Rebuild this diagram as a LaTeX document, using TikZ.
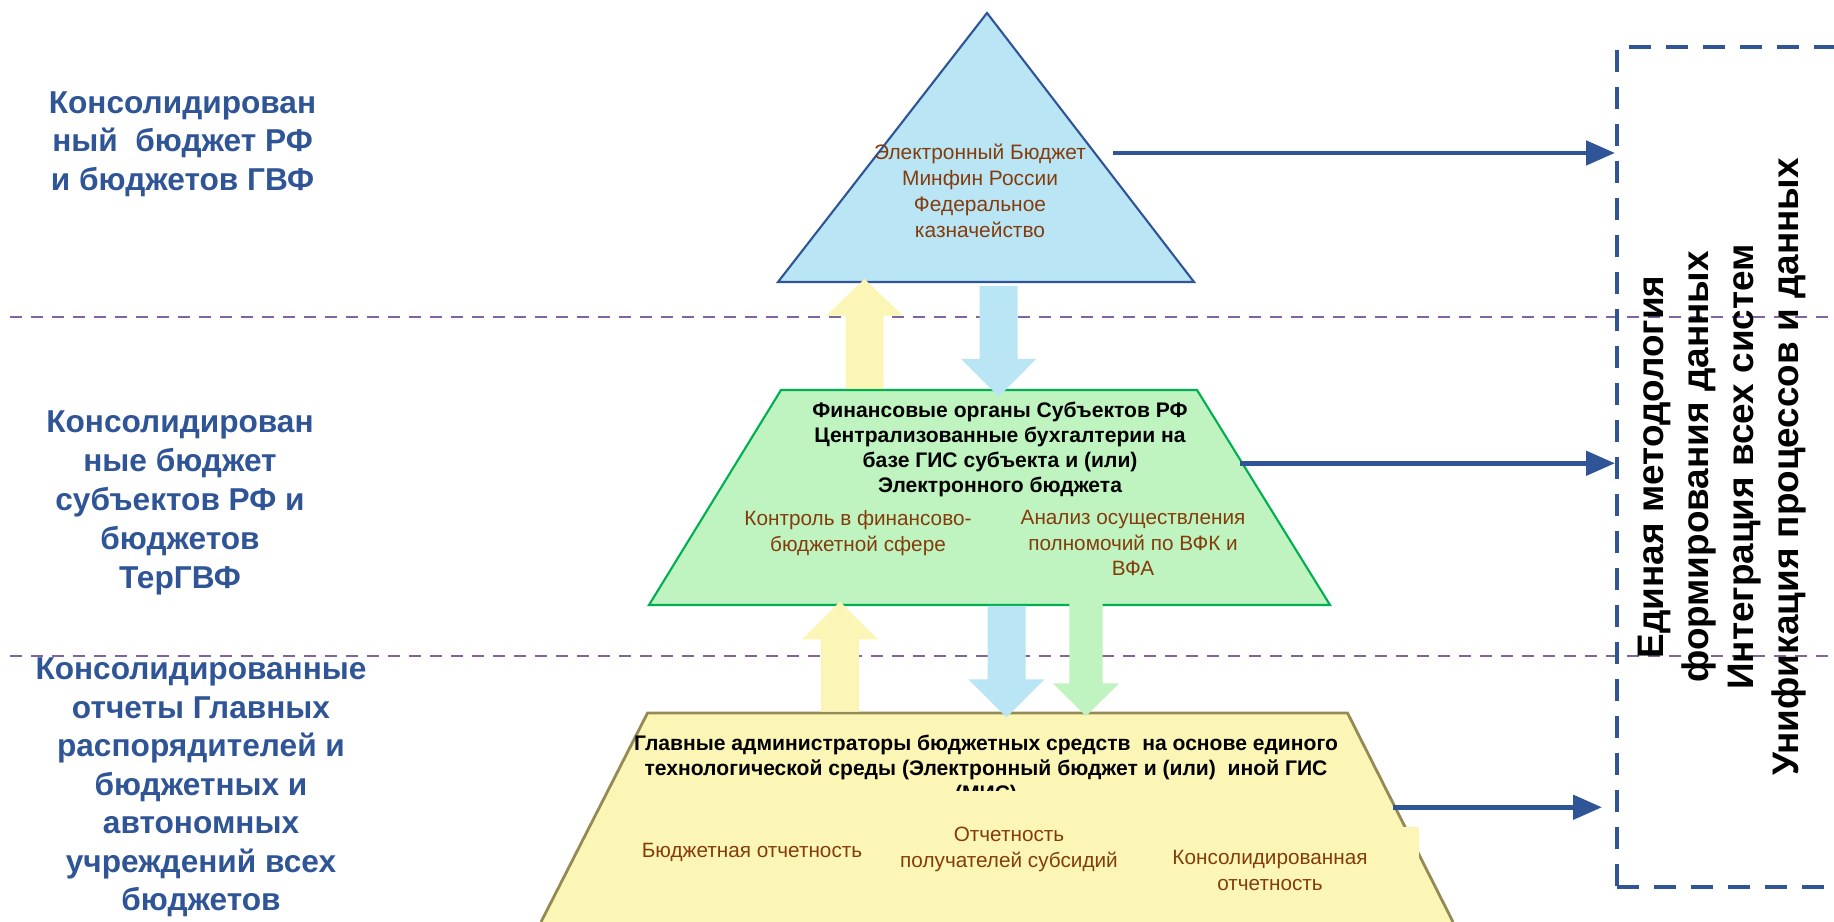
\documentclass[tikz,border=0pt]{standalone}
\usepackage{fontspec}
\setmainfont{Liberation Sans}
\usetikzlibrary{arrows.meta}
\definecolor{tierblue}{RGB}{185,229,245}
\definecolor{tiergreen}{RGB}{191,243,191}
\definecolor{tieryellow}{RGB}{252,246,182}
\definecolor{edgegreen}{RGB}{0,176,80}
\definecolor{edgeolive}{RGB}{148,138,84}
\definecolor{deepblue}{RGB}{47,85,151}
\definecolor{rust}{RGB}{132,60,12}
\definecolor{lilac}{RGB}{128,100,162}
\tikzset{
  top_tier/.style = { fill=tierblue, draw=deepblue, line width=0.6pt },
  mid_tier/.style = { fill=tiergreen, draw=edgegreen, line width=0.6pt },
  low_fill/.style = { fill=tieryellow },
  low_edge/.style = { draw=edgeolive, line width=0.8pt },
  divider/.style  = { lilac, line width=0.5pt, dash pattern=on 0.12cm off 0.09cm },
  boxline/.style  = { draw=deepblue, line width=1.15pt, dash pattern=on 0.22cm off 0.15cm },
  feed/.style     = { deepblue, line width=1.4pt, -{Triangle[length=0.29cm,width=0.24cm]} },
  heading/.style  = { deepblue, font=\bfseries\fontsize{9}{10.95}\selectfont, align=center },
  orgs/.style     = { font=\bfseries\fontsize{6}{7.1}\selectfont, align=center },
  note/.style     = { rust, font=\fontsize{5.9}{7.3}\selectfont, align=center }
}

\begin{document}
\begin{tikzpicture}
  \useasboundingbox (0,0) rectangle (18.34,9.22);

  % Draw level borders
  \draw[divider] (0.1,6.05) -- (18.34,6.05);
  \draw[divider] (0.1,2.66) -- (18.34,2.66);

  % Draw all levels
  \filldraw[top_tier] (7.78,6.40) -- (9.87,9.09) -- (11.94,6.40) -- cycle;
  \filldraw[mid_tier] (6.49,3.17) -- (7.81,5.32) -- (11.97,5.32) -- (13.30,3.17) -- cycle;
  \fill[low_fill] (5.41,0) -- (6.475,2.09) -- (13.475,2.09) -- (14.53,0) -- cycle;
  \draw[low_edge] (5.41,0) -- (6.475,2.09) -- (13.475,2.09) -- (14.53,0);

  \node[note, font=\fontsize{5.95}{7.4}\selectfont] (ebud) at (9.80,7.315)
    {Электронный Бюджет\\Минфин России\\Федеральное\\казначейство};

  \node[orgs] (fin) at (10.00,4.725)
    {Финансовые органы Субъектов РФ\\Централизованные бухгалтерии на\\базе ГИС субъекта и (или)\\Электронного бюджета};
  \node[note] (ctrl) at (8.58,3.89) {Контроль в финансово-\\бюджетной сфере};
  \node[note] (vfk) at (11.33,3.79) {Анализ осуществления\\полномочий по ВФК и\\ВФА};

  \node[orgs, font=\bfseries\fontsize{6}{7.1}\selectfont] (gabs) at (9.86,1.52)
    {Главные администраторы бюджетных средств~ на основе единого\\технологической среды (Электронный бюджет и (или)~ иной ГИС\\(МИС)};
  \fill[low_fill] (6.70,0) rectangle (13.30,1.31);
  \fill[low_fill] (11.60,0) rectangle (14.19,0.95);
  \node[note] (bo) at (7.52,0.70) {Бюджетная отчетность};
  \node[note] (po) at (10.09,0.725) {Отчетность\\получателей субсидий};
  \node[note] (ko) at (12.70,0.515) {Консолидированная\\отчетность};

  % Draw level arrows
  \fill[tieryellow] (8.455,5.33) -- (8.455,6.063) -- (8.262,6.063) -- (8.645,6.43) -- (9.028,6.063) -- (8.835,6.063) -- (8.835,5.33) -- cycle;
  \fill[tierblue] (9.797,6.36) -- (9.797,5.63) -- (9.612,5.63) -- (9.987,5.253) -- (10.362,5.63) -- (10.177,5.63) -- (10.177,6.36) -- cycle;
  \fill[tieryellow] (8.21,2.103) -- (8.21,2.827) -- (8.022,2.827) -- (8.40,3.203) -- (8.778,2.827) -- (8.59,2.827) -- (8.59,2.103) -- cycle;
  \fill[tierblue] (9.875,3.16) -- (9.875,2.427) -- (9.685,2.427) -- (10.065,2.047) -- (10.445,2.427) -- (10.255,2.427) -- (10.255,3.16) -- cycle;
  \fill[tiergreen] (10.693,3.25) -- (10.693,2.387) -- (10.528,2.387) -- (10.86,2.06) -- (11.192,2.387) -- (11.027,2.387) -- (11.027,3.25) -- cycle;

  % Draw labels
  \node[heading] (lvl1) at (1.825,7.78) {Консолидирован\\ный~ бюджет РФ\\и бюджетов ГВФ};
  \node[heading, font=\bfseries\fontsize{9}{11.1}\selectfont] (lvl2) at (1.80,4.19) {Консолидирован\\ные бюджет\\субъектов РФ и\\бюджетов\\ТерГВФ};
  \node[heading] (lvl3) at (2.01,1.345) {Консолидированные\\отчеты Главных\\распорядителей и\\бюджетных и\\автономных\\учреждений всех\\бюджетов};

  % Draw common box
  \node[boxline, minimum width=2.63cm, minimum height=8.4cm, inner sep=0pt] (frame) at (17.485,4.55) {};
  \node[font=\bfseries\fontsize{10.5}{12.8}\selectfont, align=center, rotate=90] (unify) at (17.22,4.55)
    {Единая методология\\формирования данных\\Интеграция всех систем\\Унификация процессов и данных};

  \coordinate (out1) at (11.13,7.69);
  \coordinate (out2) at (12.40,4.587);
  \coordinate (out3) at (13.93,1.147);
  \draw[feed] (out1) -- (out1 -| frame.west);
  \draw[feed] (out2) -- (out2 -| frame.west);
  \draw[feed] (out3) -- ([xshift=-0.13cm]out3 -| frame.west);
\end{tikzpicture}
\end{document}
